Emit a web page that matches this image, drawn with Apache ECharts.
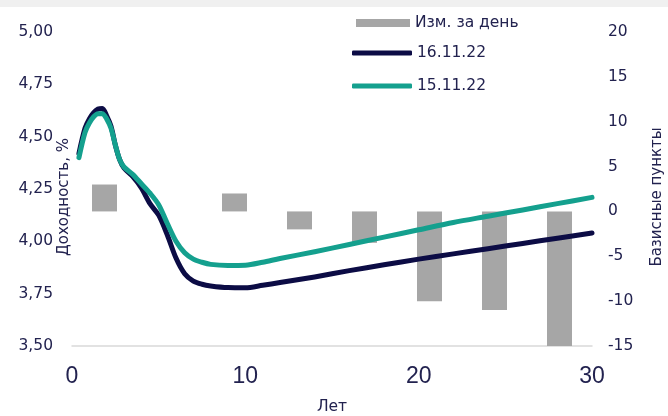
<!DOCTYPE html>
<html>
<head>
<meta charset="utf-8">
<script src="https://cdn.jsdelivr.net/npm/echarts@6/dist/echarts.min.js"></script>
<style>
html,body{margin:0;padding:0;background:#fff;}
#c{width:668px;height:416px;}
</style>
</head>
<body>
<div id="c"></div>
<script>
// Bar categories (tenor buckets) and daily change, bp
var barCategories = ['1', '2', '3', '5', '7', '10', '15', '20'];
var dailyChange = [3, null, 2, -2, -3.5, -10, -11, -15];

// Maturity grid, years
var years = [0.4, 0.75, 1.0, 1.25, 1.5, 1.75, 2.0, 2.25, 2.5, 2.75, 3.0, 3.5, 4.0, 4.5, 5.0, 5.5, 6.0, 6.5, 7.0, 7.5, 8, 9, 10, 11, 12, 14, 16, 18, 20, 22, 24, 26, 28, 30];
// Curve 16.11.22, yield %
var yield16 = [4.42, 4.54, 4.585, 4.615, 4.632, 4.635, 4.60, 4.55, 4.46, 4.39, 4.35, 4.31, 4.255, 4.18, 4.125, 4.03, 3.92, 3.845, 3.81, 3.795, 3.787, 3.779, 3.778, 3.79, 3.803, 3.83, 3.86, 3.888, 3.915, 3.94, 3.965, 3.99, 4.015, 4.04];
// Curve 15.11.22, yield %
var yield15 = [4.40, 4.52, 4.565, 4.595, 4.61, 4.61, 4.585, 4.54, 4.46, 4.39, 4.355, 4.32, 4.275, 4.23, 4.175, 4.085, 4.00, 3.945, 3.915, 3.90, 3.89, 3.885, 3.886, 3.90, 3.918, 3.95, 3.985, 4.02, 4.055, 4.09, 4.12, 4.15, 4.18, 4.21];

var leftTicks = {min: 3.5, max: 5, interval: 0.25};
var rightTicks = {min: -15, max: 20, interval: 5};
var xTicks = {min: 0, max: 30, interval: 10};

function pairs(xs, ys) { return xs.map(function (x, i) { return [x, ys[i]]; }); }

var txt = '#22224f';
var font = "'Liberation Sans', Arial, sans-serif";
var wide = "'DejaVu Sans', sans-serif";
var chart = echarts.init(document.getElementById('c'));
chart.setOption({
  animation: false,
  textStyle: {fontFamily: wide, color: txt},
  graphic: [{type: 'rect', shape: {x: 0, y: 0, width: 668, height: 7}, style: {fill: '#f0f0f0'}, z: -1}],
  grid: {left: 72, right: 76, top: 32, bottom: 70, containLabel: false, outerBoundsMode: 'none'},
  legend: [
    {data: ['Изм. за день'], left: 356, top: 15, padding: 0, icon: 'rect', itemWidth: 54, itemHeight: 8,
      textStyle: {fontSize: 15.5, color: txt, fontFamily: wide}},
    {data: ['16.11.22'], left: 352, top: 45, padding: 0, icon: 'roundRect', itemWidth: 60, itemHeight: 5,
      textStyle: {fontSize: 15.5, color: txt, fontFamily: wide}},
    {data: ['15.11.22'], left: 352, top: 78, padding: 0, icon: 'roundRect', itemWidth: 60, itemHeight: 5,
      textStyle: {fontSize: 15.5, color: txt, fontFamily: wide}}
  ],
  xAxis: [
    {type: 'value', min: xTicks.min, max: xTicks.max, interval: xTicks.interval,
      name: 'Лет', nameLocation: 'middle', nameGap: 53, nameMoveOverlap: false,
      nameTextStyle: {fontSize: 15.5, color: txt, fontFamily: wide},
      axisLine: {show: true, onZero: false, lineStyle: {color: '#d9d9d9', width: 1.5}},
      axisTick: {show: false}, splitLine: {show: false},
      axisLabel: {fontSize: 23, color: txt, margin: 19, fontFamily: font}},
    {type: 'category', data: barCategories, show: false, position: 'bottom'}
  ],
  yAxis: [
    {type: 'value', min: leftTicks.min, max: leftTicks.max, interval: leftTicks.interval,
      name: 'Доходность, %', nameLocation: 'middle', nameGap: 0, nameRotate: 90, nameMoveOverlap: false,
      nameTextStyle: {fontSize: 15, color: txt, fontFamily: wide, padding: [0, 16, 0, 0]},
      axisLine: {show: false}, axisTick: {show: false}, splitLine: {show: false},
      axisLabel: {fontSize: 15.5, color: txt, margin: 19, fontFamily: wide,
        formatter: function (v) { return v.toFixed(2).replace('.', ','); }}},
    {type: 'value', min: rightTicks.min, max: rightTicks.max, interval: rightTicks.interval,
      position: 'right',
      name: 'Базисные пункты', nameLocation: 'middle', nameGap: 58, nameRotate: 90, nameMoveOverlap: false,
      nameTextStyle: {fontSize: 15, color: txt, fontFamily: wide, padding: [0, 16, 0, 0]},
      axisLine: {show: false}, axisTick: {show: false}, splitLine: {show: false},
      axisLabel: {fontSize: 15.5, color: txt, margin: 16, fontFamily: wide}}
  ],
  series: [
    {name: 'Изм. за день', type: 'bar', xAxisIndex: 1, yAxisIndex: 1, data: dailyChange,
      barWidth: 25, itemStyle: {color: '#a6a6a6'}, z: 1},
    {name: '16.11.22', type: 'line', xAxisIndex: 0, yAxisIndex: 0, data: pairs(years, yield16),
      smooth: 0.3, showSymbol: false, symbol: 'none',
      lineStyle: {color: '#0c0c45', width: 5, cap: 'round', join: 'round'}, itemStyle: {color: '#0c0c45'}, z: 3},
    {name: '15.11.22', type: 'line', xAxisIndex: 0, yAxisIndex: 0, data: pairs(years, yield15),
      smooth: 0.3, showSymbol: false, symbol: 'none',
      lineStyle: {color: '#14a08e', width: 5, cap: 'round', join: 'round'}, itemStyle: {color: '#14a08e'}, z: 4}
  ]
});
</script>
</body>
</html>
